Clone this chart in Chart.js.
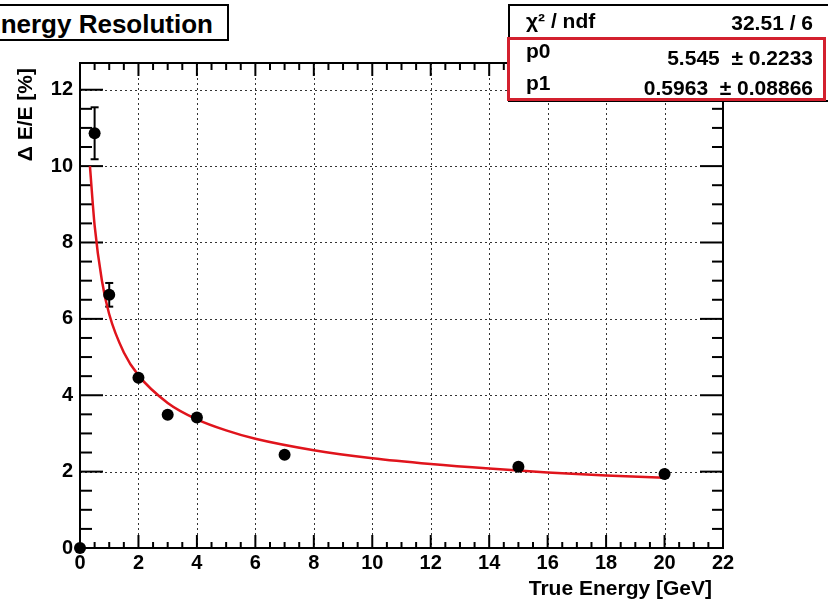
<!DOCTYPE html>
<html>
<head>
<meta charset="utf-8">
<title>Energy Resolution</title>
<script src="https://cdn.jsdelivr.net/npm/chart.js@4/dist/chart.umd.min.js"></script>
<style>
  body { margin: 0; background: #fff; }
  #wrap {
    position: relative; width: 828px; height: 600px; overflow: hidden;
    font-family: "Liberation Sans", Arial, sans-serif; font-weight: bold; color: #000;
  }
  #res { position: absolute; left: 0; top: 0; }
  #title-box {
    position: absolute; left: -40px; top: 4px; width: 269px; height: 37px;
    box-sizing: border-box; border: 2px solid #000; background: #fff;
    font-size: 26px; line-height: 1; text-align: right; padding: 5px 14px 0 0;
  }
  #stats {
    position: absolute; left: 508px; top: 4px; width: 322px; height: 98px;
    box-sizing: border-box; border: 2px solid #000; background: #fff;
  }
  #stats-hl {
    position: absolute; left: 507px; top: 37px; width: 319px; height: 64px;
    box-sizing: border-box; border: 3px solid #d3202e;
  }
  .st { position: absolute; font-size: 21px; line-height: 1; white-space: pre; }
  .st.k { left: 526px; }
  .st.v { right: 15px; }
</style>
</head>
<body>
<div id="wrap">
  <canvas id="res" width="828" height="600"></canvas>
  <div id="title-box">Energy Resolution</div>
  <div id="stats"></div>
  <div id="stats-hl"></div>
</div>
<script>
// measured points
const energies   = [0, 0.5, 1, 2, 3, 4, 7, 15, 20];
const resolution = [0, 10.86, 6.63, 4.46, 3.49, 3.42, 2.44, 2.13, 1.94];
const resErrors  = [0, 0.68, 0.31, 0.15, 0.08, 0.08, 0.07, 0.06, 0.05];

// fitted curve, sampled along its length
const fitE   = [0.34, 0.5, 0.75, 1, 1.5, 2, 3, 4, 5, 6, 8, 10, 12, 14, 16, 18, 20];
const fitRes = [10.0, 8.45, 7.0, 6.12, 5.12, 4.52, 3.8, 3.37, 3.08, 2.86, 2.56, 2.35, 2.2, 2.08, 1.98, 1.9, 1.84];

// fit box
const statKeys   = ['χ² / ndf', 'p0', 'p1'];
const statValues = ['32.51 / 6', '5.545  ± 0.2233', '0.5963  ± 0.08866'];
const keyBase    = [28, 58, 90];
const valBase    = [30, 65, 95];

const FONT = '"Liberation Sans", Arial, sans-serif';
const isOn = (v, step) => Math.abs(v / step - Math.round(v / step)) < 1e-6;

// stats box text
const wrap = document.getElementById('wrap');
statKeys.forEach((k, i) => {
  const a = document.createElement('div');
  a.className = 'st k';
  a.style.top = (keyBase[i] - 18) + 'px';
  a.textContent = k;
  wrap.appendChild(a);
  const b = document.createElement('div');
  b.className = 'st v';
  b.style.top = (valBase[i] - 18) + 'px';
  b.textContent = statValues[i];
  wrap.appendChild(b);
});

function seg(ctx, x1, y1, x2, y2) {
  ctx.beginPath(); ctx.moveTo(x1, y1); ctx.lineTo(x2, y2); ctx.stroke();
}

// ROOT-style frame: dotted grid, inward ticks on every side, error bars, axis titles
const rootFrame = {
  id: 'rootFrame',
  beforeDatasetsDraw(chart) {
    const { ctx, chartArea: a, scales: { x, y } } = chart;
    ctx.save();
    ctx.strokeStyle = '#333';
    ctx.lineWidth = 1;
    ctx.setLineDash([2, 3]);
    x.ticks.forEach(t => {
      if (!isOn(t.value, 2) || t.value <= x.min || t.value >= x.max) return;
      const px = Math.round(x.getPixelForValue(t.value)) + 0.5;
      seg(ctx, px, a.top, px, a.bottom);
    });
    y.ticks.forEach(t => {
      if (!isOn(t.value, 2) || t.value <= y.min || t.value >= y.max) return;
      const py = Math.round(y.getPixelForValue(t.value)) + 0.5;
      seg(ctx, a.left, py, a.right, py);
    });
    ctx.setLineDash([]);

    // frame and ticks
    ctx.strokeStyle = '#000';
    ctx.lineWidth = 2;
    ctx.strokeRect(a.left, a.top, a.right - a.left, a.bottom - a.top);
    x.ticks.forEach(t => {
      if (!isOn(t.value, 0.5)) return;
      const major = isOn(t.value, 2);
      const px = x.getPixelForValue(t.value);
      seg(ctx, px, a.bottom, px, a.bottom - (major ? 13 : 6));
      seg(ctx, px, a.top, px, a.top + (major ? 13 : 7));
    });
    y.ticks.forEach(t => {
      if (!isOn(t.value, 0.5)) return;
      const major = isOn(t.value, 2);
      const py = y.getPixelForValue(t.value);
      seg(ctx, a.left, py, a.left + (major ? 23 : 12), py);
      seg(ctx, a.right, py, a.right - (major ? 23 : 11), py);
    });

    // error bars
    energies.forEach((e, i) => {
      if (!resErrors[i]) return;
      const px = x.getPixelForValue(e);
      const top = y.getPixelForValue(resolution[i] + resErrors[i]);
      const bot = y.getPixelForValue(resolution[i] - resErrors[i]);
      seg(ctx, px, top, px, bot);
      if (bot - top > 14) {
        seg(ctx, px - 4, top, px + 4, top);
        seg(ctx, px - 4, bot, px + 4, bot);
      }
    });
    ctx.restore();
  },
  afterDraw(chart) {
    const { ctx } = chart;
    ctx.save();
    ctx.fillStyle = '#000';
    ctx.font = 'bold 21px ' + FONT;
    ctx.textBaseline = 'alphabetic';
    ctx.textAlign = 'right';
    ctx.fillText('True Energy [GeV]', 712, 595);
    ctx.translate(32, 68);
    ctx.rotate(-Math.PI / 2);
    ctx.fillText('Δ E/E [%]', 0, 0);
    ctx.restore();
  }
};

const tickFont = { family: FONT, size: 20, weight: 'bold' };

new Chart(document.getElementById('res'), {
  type: 'scatter',
  data: {
    datasets: [
      {
        data: energies.map((e, i) => ({ x: e, y: resolution[i] })),
        pointRadius: 6,
        pointBackgroundColor: '#000',
        pointBorderWidth: 0,
        showLine: false,
        clip: false
      },
      {
        data: fitE.map((e, i) => ({ x: e, y: fitRes[i] })),
        showLine: true,
        borderColor: '#e0141c',
        borderWidth: 2.5,
        pointRadius: 0,
        cubicInterpolationMode: 'monotone'
      }
    ]
  },
  options: {
    responsive: false,
    animation: false,
    devicePixelRatio: 1,
    layout: { padding: { top: 63, right: 105, left: 0, bottom: 0 } },
    plugins: { legend: { display: false }, tooltip: { enabled: false } },
    scales: {
      x: {
        type: 'linear', min: 0, max: 22,
        afterFit: s => { s.height = 52; },
        grid: { display: false, drawTicks: false },
        border: { display: false },
        ticks: {
          stepSize: 0.5, autoSkip: false, maxRotation: 0, padding: 3,
          color: '#000', font: tickFont,
          callback: v => isOn(v, 2) ? v : ''
        }
      },
      y: {
        type: 'linear', min: 0, max: 12.7,
        afterFit: s => { s.width = 80; },
        grid: { display: false, drawTicks: false },
        border: { display: false },
        ticks: {
          stepSize: 0.5, autoSkip: false, padding: 7,
          color: '#000', font: tickFont,
          callback: v => isOn(v, 2) ? v : ''
        }
      }
    }
  },
  plugins: [rootFrame]
});
</script>
</body>
</html>
